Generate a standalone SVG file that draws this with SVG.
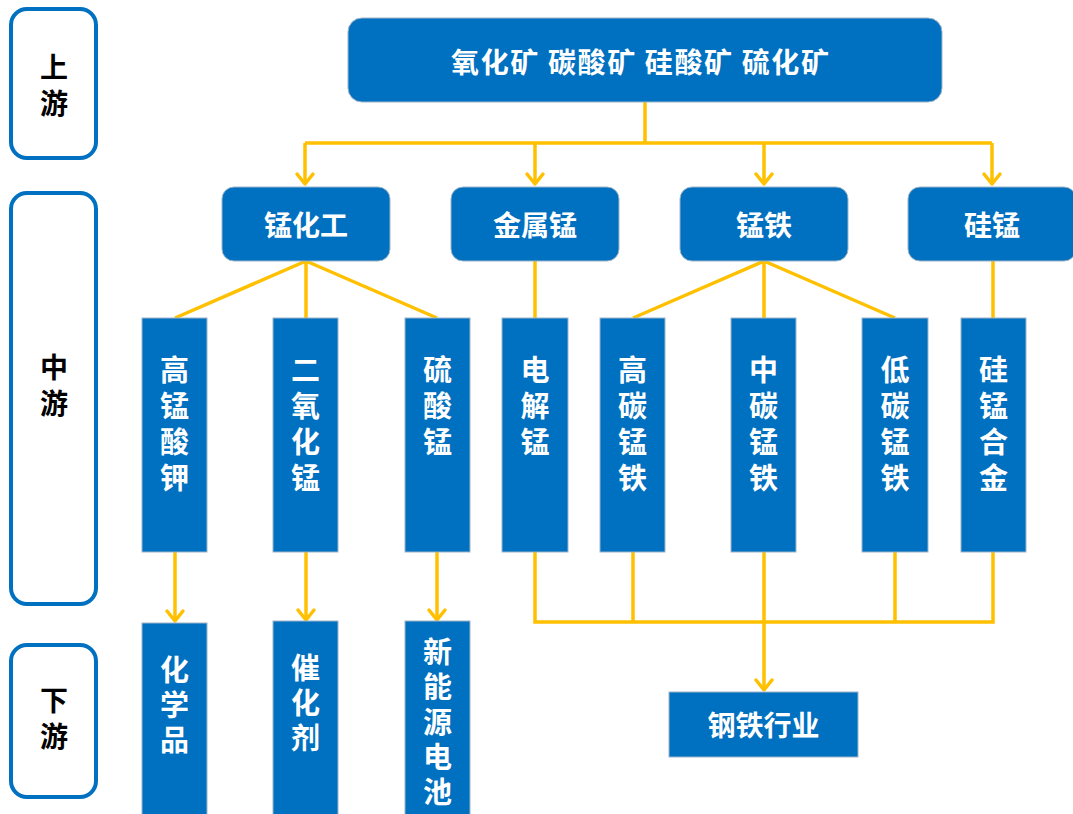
<svg xmlns="http://www.w3.org/2000/svg" width="1073" height="814" viewBox="0 0 1073 814">
<style>
text{font-family:"Noto Sans CJK SC","Noto Sans",sans-serif;font-weight:bold;text-anchor:middle;dominant-baseline:central}
.box{fill:#0070C0;stroke:#9FB4C8;stroke-width:1}
.lbl{fill:#fff;stroke:#0070C0;stroke-width:4}
.wt{fill:#fff;font-size:28px}
.vt{fill:#fff;font-size:29px;writing-mode:vertical-rl;text-anchor:start;letter-spacing:7px}
.vs{letter-spacing:6px}
.bt{fill:#000;font-size:28px;writing-mode:vertical-rl;text-anchor:start;letter-spacing:8px}
.ln{fill:none;stroke:#FFC000;stroke-width:3.5}
</style>
<defs>
<marker id="ar" viewBox="-12 -10 14 20" markerWidth="14" markerHeight="20" refX="0" refY="0" orient="auto" markerUnits="userSpaceOnUse" overflow="visible">
<path d="M-10,-8 L0,0 L-10,8" fill="none" stroke="#FFC000" stroke-width="3.5" stroke-linecap="round" stroke-linejoin="round"/>
</marker>
</defs>
<g id="stage-labels">
<g id="label-up"><rect class="lbl" x="11" y="9" width="85" height="149" rx="16"/><text class="bt" x="54" y="53">上游</text></g>
<g id="label-mid"><rect class="lbl" x="11" y="193" width="85" height="411" rx="16"/><text class="bt" x="54" y="353">中游</text></g>
<g id="label-down"><rect class="lbl" x="11" y="645" width="85" height="152" rx="16"/><text class="bt" x="54" y="686">下游</text></g>
</g>
<g id="connectors">
<path class="ln" d="M645,102 L645,143 M305,143 L992,143"/>
<line class="ln" x1="305" y1="143" x2="305" y2="184" marker-end="url(#ar)"/>
<line class="ln" x1="535" y1="143" x2="535" y2="184" marker-end="url(#ar)"/>
<line class="ln" x1="764" y1="143" x2="764" y2="184" marker-end="url(#ar)"/>
<line class="ln" x1="992" y1="143" x2="992" y2="184" marker-end="url(#ar)"/>
<path class="ln" d="M306,261 L175,318 M306,261 L306,318 M306,261 L437,318"/>
<path class="ln" d="M535,261 L535,318"/>
<path class="ln" d="M764,261 L633,318 M764,261 L764,318 M764,261 L895,318"/>
<path class="ln" d="M993,261 L993,318"/>
<line class="ln" x1="175" y1="552" x2="175" y2="621" marker-end="url(#ar)"/>
<line class="ln" x1="306" y1="552" x2="306" y2="620" marker-end="url(#ar)"/>
<line class="ln" x1="437" y1="552" x2="437" y2="620" marker-end="url(#ar)"/>
<path class="ln" d="M535,552 L535,622 L993,622 L993,552 M633,552 L633,622 M764,552 L764,622 M895,552 L895,622"/>
<line class="ln" x1="764" y1="622" x2="764" y2="690" marker-end="url(#ar)"/>
</g>
<g id="ores"><rect class="box" x="348" y="18" width="594" height="84" rx="14"/><text class="wt" x="640" y="61" textLength="378" lengthAdjust="spacing">氧化矿 碳酸矿 硅酸矿 硫化矿</text></g>
<g id="mn-chem"><rect class="box" x="222" y="187" width="168" height="74" rx="12"/><text class="wt" x="306" y="224">锰化工</text></g>
<g id="mn-metal"><rect class="box" x="451" y="187" width="168" height="74" rx="12"/><text class="wt" x="535" y="224">金属锰</text></g>
<g id="mn-fe"><rect class="box" x="680" y="187" width="168" height="74" rx="12"/><text class="wt" x="764" y="224">锰铁</text></g>
<g id="si-mn"><rect class="box" x="908" y="187" width="168" height="74" rx="12"/><text class="wt" x="992" y="224">硅锰</text></g>
<g id="kmno4"><rect class="box" x="142" y="318" width="65" height="234"/><text class="vt" x="174.5" y="355.5">高锰酸钾</text></g>
<g id="mno2"><rect class="box" x="273" y="318" width="65" height="234"/><text class="vt" x="305.5" y="355.5">二氧化锰</text></g>
<g id="mnso4"><rect class="box" x="405" y="318" width="65" height="234"/><text class="vt" x="437.5" y="355.5">硫酸锰</text></g>
<g id="emm"><rect class="box" x="502" y="318" width="66" height="234"/><text class="vt" x="535" y="355.5">电解锰</text></g>
<g id="hc-femn"><rect class="box" x="600" y="318" width="65" height="234"/><text class="vt" x="632.5" y="355.5">高碳锰铁</text></g>
<g id="mc-femn"><rect class="box" x="731" y="318" width="65" height="234"/><text class="vt" x="763.5" y="355.5">中碳锰铁</text></g>
<g id="lc-femn"><rect class="box" x="862" y="318" width="66" height="234"/><text class="vt" x="895" y="355.5">低碳锰铁</text></g>
<g id="simn-alloy"><rect class="box" x="961" y="318" width="65" height="234"/><text class="vt" x="993.5" y="355.5">硅锰合金</text></g>
<g id="chemicals"><rect class="box" x="142" y="623" width="65" height="200"/><text class="vt vs" x="174.5" y="655.5">化学品</text></g>
<g id="catalyst"><rect class="box" x="273" y="621" width="65" height="200"/><text class="vt vs" x="305.5" y="653.5">催化剂</text></g>
<g id="battery"><rect class="box" x="405" y="621" width="65" height="200"/><text class="vt vs" x="437.5" y="637.5">新能源电池</text></g>
<g id="steel"><rect class="box" x="669" y="692" width="189" height="65"/><text class="wt" x="763.5" y="724">钢铁行业</text></g>
</svg>
